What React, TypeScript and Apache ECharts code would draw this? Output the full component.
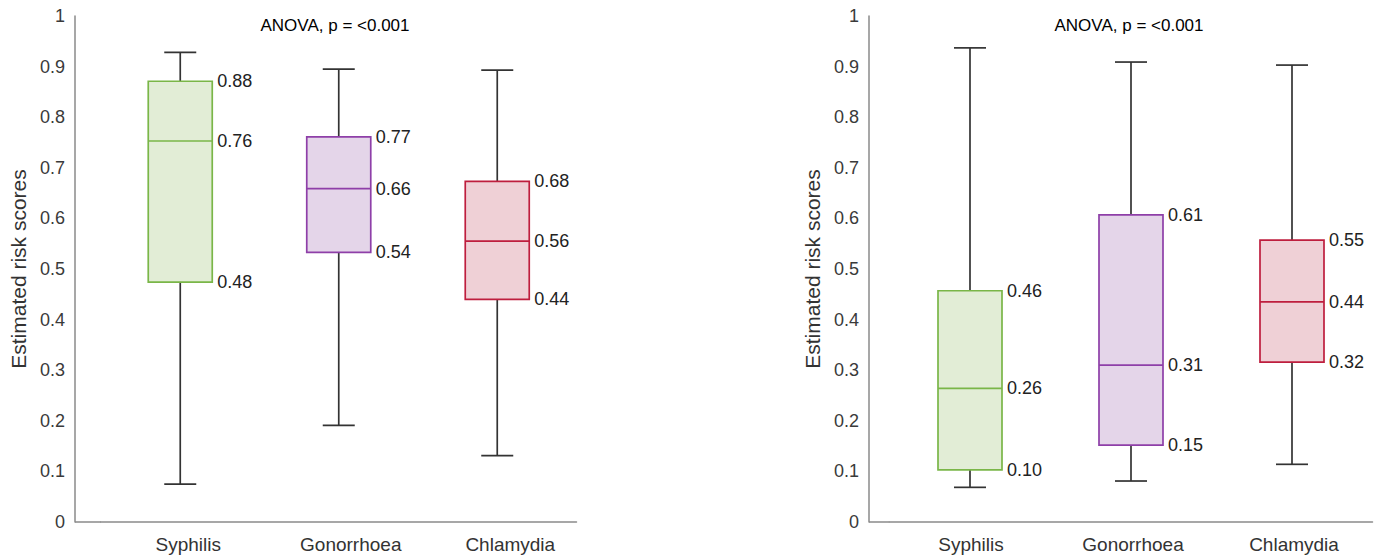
import React, { useEffect, useRef } from "react";
import * as echarts from "echarts";

const categories = ["Syphilis", "Gonorrhoea", "Chlamydia"];
const yTicks = [0, 0.1, 0.2, 0.3, 0.4, 0.5, 0.6, 0.7, 0.8, 0.9, 1];

// Left panel statistics
const leftMin = [0.075, 0.191, 0.131];
const leftQ1 = [0.474, 0.533, 0.44];
const leftMedian = [0.753, 0.659, 0.555];
const leftQ3 = [0.871, 0.761, 0.673];
const leftMax = [0.928, 0.895, 0.893];
const leftQ3Labels = ["0.88", "0.77", "0.68"];
const leftMedianLabels = ["0.76", "0.66", "0.56"];
const leftQ1Labels = ["0.48", "0.54", "0.44"];

// Right panel statistics
const rightMin = [0.0685, 0.081, 0.114];
const rightQ1 = [0.103, 0.152, 0.316];
const rightMedian = [0.264, 0.31, 0.435];
const rightQ3 = [0.457, 0.607, 0.557];
const rightMax = [0.937, 0.909, 0.903];
const rightQ3Labels = ["0.46", "0.61", "0.55"];
const rightMedianLabels = ["0.26", "0.31", "0.44"];
const rightQ1Labels = ["0.10", "0.15", "0.32"];

const anovaText = "ANOVA, p = <0.001";
const yName = "Estimated risk scores";

const strokeColors = ["#7ab648", "#8e3fa8", "#be1e3e"];
const fillColors = ["#e2edd6", "#e4d5e9", "#efd0d6"];

const FONT = "'Liberation Sans', Arial, Helvetica, sans-serif";

function buildData(mn: number[], q1: number[], md: number[], q3: number[], mx: number[]) {
  return categories.map((_, i) => [i, mn[i], q1[i], md[i], q3[i], mx[i]]);
}

function makeRender(q3L: string[], mdL: string[], q1L: string[]) {
  return (params: any, api: any) => {
    const i = api.value(0);
    const [cx, yMin] = api.coord([i, api.value(1)]);
    const yQ1 = api.coord([i, api.value(2)])[1];
    const yMd = api.coord([i, api.value(3)])[1];
    const yQ3 = api.coord([i, api.value(4)])[1];
    const yMax = api.coord([i, api.value(5)])[1];
    const hw = 32;
    const cw = 16;
    const ws = { stroke: "#333333", lineWidth: 1.7 };
    const lab = (t: string, y: number) => ({
      type: "text",
      x: cx + hw + 5,
      y,
      style: { text: t, fill: "#222222", fontSize: 18, fontFamily: FONT, verticalAlign: "middle", align: "left" },
    });
    return {
      type: "group",
      children: [
        { type: "line", shape: { x1: cx, y1: yMax, x2: cx, y2: yMin }, style: ws },
        { type: "line", shape: { x1: cx - cw, y1: yMax, x2: cx + cw, y2: yMax }, style: ws },
        { type: "line", shape: { x1: cx - cw, y1: yMin, x2: cx + cw, y2: yMin }, style: ws },
        {
          type: "rect",
          shape: { x: cx - hw, y: yQ3, width: hw * 2, height: yQ1 - yQ3 },
          style: { fill: fillColors[i], stroke: strokeColors[i], lineWidth: 1.7 },
        },
        {
          type: "line",
          shape: { x1: cx - hw, y1: yMd, x2: cx + hw, y2: yMd },
          style: { stroke: strokeColors[i], lineWidth: 1.7 },
        },
        lab(q3L[i], yQ3),
        lab(mdL[i], yMd),
        lab(q1L[i], yQ1),
      ],
    };
  };
}

const yAxisBase = (offset: number, gridIndex: number) => ({
  type: "value",
  gridIndex,
  min: yTicks[0],
  max: yTicks[yTicks.length - 1],
  interval: 0.1,
  offset,
  name: yName,
  nameLocation: "middle",
  nameGap: 46,
  nameTextStyle: { fontSize: 21, color: "#333333", fontFamily: FONT },
  axisLine: { show: true, lineStyle: { color: "#8a8a8a", width: 1.5 } },
  axisTick: { show: false },
  splitLine: { show: false },
  axisLabel: {
    fontSize: 18,
    color: "#3a3a3a",
    fontFamily: FONT,
    margin: 10,
    formatter: (v: number) => (v === 0 ? "0" : v === 1 ? "1" : v.toFixed(1)),
  },
});

const labelStyle = { fontSize: 19, color: "#333333", fontFamily: FONT };

const xAxisBase = (gridIndex: number, shifts: number[]) => ({
  type: "category",
  gridIndex,
  data: categories,
  axisLine: { show: true, lineStyle: { color: "#8a8a8a", width: 1.5 } },
  axisTick: { show: false },
  axisLabel: {
    ...labelStyle,
    margin: 13,
    interval: 0,
    hideOverlap: false,
    formatter: (v: string, idx: number) => `{p${idx}|${v}}`,
    rich: {
      p0: { ...labelStyle, padding: [0, 0, 0, shifts[0] * 2] },
      p1: { ...labelStyle, padding: [0, 0, 0, shifts[1] * 2] },
      p2: { ...labelStyle, padding: [0, 0, 0, shifts[2] * 2] },
    },
  },
});

export default function App() {
  const ref = useRef<HTMLDivElement>(null);
  useEffect(() => {
    if (!ref.current) return;
    const chart = echarts.init(ref.current, undefined, { renderer: "svg" });
    chart.setOption({
      animation: false,
      backgroundColor: "#ffffff",
      grid: [
        { left: 101, width: 475.5, top: 16, bottom: 33 },
        { left: 889.5, width: 483, top: 16, bottom: 33 },
      ],
      xAxis: [xAxisBase(0, [8, 12, 13]), xAxisBase(1, [1, 2, 2])],
      yAxis: [yAxisBase(26, 0), yAxisBase(20.5, 1)],
      series: [
        {
          type: "custom",
          xAxisIndex: 0,
          yAxisIndex: 0,
          data: buildData(leftMin, leftQ1, leftMedian, leftQ3, leftMax),
          renderItem: makeRender(leftQ3Labels, leftMedianLabels, leftQ1Labels),
          encode: { x: 0, y: [1, 2, 3, 4, 5] },
        },
        {
          type: "custom",
          xAxisIndex: 1,
          yAxisIndex: 1,
          data: buildData(rightMin, rightQ1, rightMedian, rightQ3, rightMax),
          renderItem: makeRender(rightQ3Labels, rightMedianLabels, rightQ1Labels),
          encode: { x: 0, y: [1, 2, 3, 4, 5] },
        },
      ],
      graphic: [
        { type: "line", shape: { x1: 75, y1: 522, x2: 101, y2: 522 }, style: { stroke: "#8a8a8a", lineWidth: 1.5 } },
        { type: "line", shape: { x1: 869, y1: 522, x2: 889.5, y2: 522 }, style: { stroke: "#8a8a8a", lineWidth: 1.5 } },
        {
          type: "text",
          x: 335,
          y: 25,
          style: { text: anovaText, fontSize: 17, fill: "#000000", fontFamily: FONT, align: "center", verticalAlign: "middle" },
        },
        {
          type: "text",
          x: 1129,
          y: 25,
          style: { text: anovaText, fontSize: 17, fill: "#000000", fontFamily: FONT, align: "center", verticalAlign: "middle" },
        },
      ],
    });
    return () => chart.dispose();
  }, []);
  return (
    <div
      ref={ref}
      style={{ position: "fixed", left: 0, top: 0, width: 1375, height: 555, background: "#fff" }}
    />
  );
}
